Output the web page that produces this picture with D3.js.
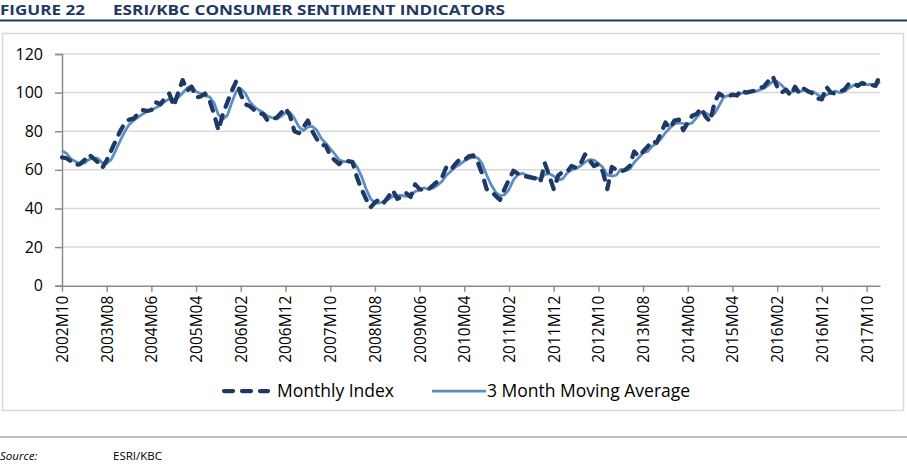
<!DOCTYPE html>
<html>
<head>
<meta charset="utf-8">
<script src="https://cdn.jsdelivr.net/npm/d3@7/dist/d3.min.js"></script>
<style>
  html, body { margin: 0; padding: 0; background: #fff; }
  svg { display: block; }
</style>
</head>
<body>
<svg id="chart" width="907" height="464"></svg>
<script>
// ---- DATA ----
const startYear = 2002, startMonth = 10, nMonths = 184; // 2002M10 .. 2018M01
const months = [];
for (let k = 0; k < nMonths; k++) {
  const t = (startMonth - 1) + k;
  const y = startYear + Math.floor(t / 12), m = (t % 12) + 1;
  months.push(y + "M" + (m < 10 ? "0" + m : m));
}

const monthlyIndex = [
  66.5, 66, 64.5,                                               // 2002 Oct-Dec
  62.5, 63, 65, 68, 66, 64, 61, 65, 70, 75, 80, 84,             // 2003
  86, 86.5, 89, 91, 90.5, 91, 95, 94, 97, 99.5, 93, 100,        // 2004
  106.5, 101, 103, 97.5, 98, 99.5, 96, 89, 80.5, 89, 95, 101,   // 2005
  106, 99, 94, 93, 91, 89, 89, 85.5, 86.5, 87, 89.5, 92,        // 2006
  88, 80, 79, 82, 85.5, 80, 76, 73, 72.5, 67.5, 65, 63,         // 2007
  65, 64.5, 64, 56, 50, 45, 40.5, 43, 45, 43, 46, 49.5,         // 2008
  45, 46, 48, 46, 52.5, 50, 49.5, 50, 52, 54, 56, 61.5,         // 2009
  60, 63, 65.5, 65, 67, 67.5, 64, 58, 50, 49, 46.5, 44.5,       // 2010
  50, 55, 59.5, 58, 57, 56.5, 56, 55.5, 53.5, 63.5, 57, 50,     // 2011
  57, 59, 59, 62, 61, 63, 68, 65, 62, 63, 59, 50,               // 2012
  61.5, 60, 59, 60, 62, 69.5, 67, 69.5, 72, 75, 74, 79,         // 2013
  84.5, 81.5, 85.5, 86, 80.5, 84.5, 88, 89, 92, 87.5, 85, 95,   // 2014
  99.5, 98, 98, 99, 98.5, 101.5, 100, 100.5, 101, 102.5, 103, 106, // 2015
  108.5, 103, 100, 101.5, 98.5, 103, 99.5, 102, 100.5, 99.5, 97, 96.5, // 2016
  103, 100, 99.5, 100.5, 101.5, 104.5, 105, 103.5, 105, 104, 104, 103.5, // 2017
  109                                                           // 2018 Jan
];

const movingAverage = [
  70, 68.5, 65.7,
  64.3, 63.3, 63.5, 65.3, 66.3, 66, 63.7, 63.3, 65.3, 70, 75, 79.7,
  83.3, 85.5, 87.2, 88.8, 90.2, 90.8, 92.2, 93.3, 95.3, 96.8, 96.5, 97.5,
  99.8, 102.5, 103.5, 100.5, 99.5, 98.3, 97.8, 94.8, 88.5, 86.2, 88.2, 95,
  100.7, 102, 99.7, 95.3, 92.7, 91, 89.7, 87.8, 87, 86.3, 87.7, 89.5,
  89.8, 86.7, 82.3, 80.3, 82.2, 82.5, 80.5, 76.3, 73.8, 71, 68.3, 65.2,
  64.3, 64.2, 64.5, 61.5, 56.7, 50.3, 45.2, 42.8, 42.8, 43.7, 44.7, 46.2,
  46.8, 46.8, 46.3, 46.7, 48.8, 49.5, 50.7, 49.8, 50.5, 52, 54, 57.2,
  59.2, 61.5, 62.8, 64.5, 65.8, 66.5, 66.2, 63.2, 57.3, 52.3, 48.5, 46.7,
  47, 49.8, 54.8, 57.5, 58.2, 57.2, 56.5, 56, 55, 57.5, 58, 56.8,
  54.7, 55.3, 58.3, 60, 60.7, 62, 64, 65.3, 65, 63.3, 61.3, 57.3,
  56.8, 57.2, 60.2, 59.7, 60.3, 63.8, 66.2, 68.7, 69.5, 72.2, 73.7, 76,
  79.2, 81.7, 83.8, 84.3, 84, 83.7, 84.3, 87.2, 89.7, 89.5, 88.2, 89.2,
  93.2, 97.5, 98.5, 98.3, 98.5, 99.7, 100, 100.7, 100.5, 101.3, 102.2, 103.8,
  105.8, 105.8, 103.8, 101.5, 100, 101, 100.3, 101.5, 100.7, 100.7, 99, 97.7,
  98.8, 99.8, 100.8, 100, 100.5, 102.2, 103.7, 104.3, 104.5, 104.2, 104.3, 103.8,
  105.5
];

const tickLabels = ["2002M10","2003M08","2004M06","2005M04","2006M02","2006M12",
  "2007M10","2008M08","2009M06","2010M04","2011M02","2011M12","2012M10","2013M08",
  "2014M06","2015M04","2016M02","2016M12","2017M10"];
const yTicks = [0, 20, 40, 60, 80, 100, 120];
const seriesNames = ["Monthly Index", "3 Month Moving Average"];

// ---- STYLE ----
const navy = "#1F3864";
const maColor = "#5B8EC6";
const gridColor = "#D9D9D9";
const axisColor = "#8C8C8C";
const font = "'Open Sans', 'Noto Sans', sans-serif";

const svg = d3.select("#chart");

// Title
const title = svg.append("g").attr("font-family", font).attr("font-weight", 700).attr("fill", navy).attr("font-size", 14.5);
title.append("text").attr("x", 0).attr("y", 15).attr("textLength", 85).attr("lengthAdjust", "spacingAndGlyphs").text("FIGURE 22");
title.append("text").attr("x", 113).attr("y", 15).attr("textLength", 392).attr("lengthAdjust", "spacingAndGlyphs").text("ESRI/KBC CONSUMER SENTIMENT INDICATORS");
svg.append("line").attr("x1", 0).attr("x2", 907).attr("y1", 20.5).attr("y2", 20.5).attr("stroke", navy).attr("stroke-width", 2);

// Chart frame
svg.append("rect").attr("x", 2.5).attr("y", 33.5).attr("width", 901).attr("height", 377)
  .attr("fill", "#fff").attr("stroke", gridColor).attr("stroke-width", 1.5);

// Scales
const x = d3.scalePoint().domain(months).range([62, 880]).padding(0);
const y = d3.scaleLinear().domain([0, 120]).range([285.7, 54]);

// Gridlines
svg.append("g").selectAll("line").data(yTicks.filter(d => d > 0)).join("line")
  .attr("x1", 62).attr("x2", 880)
  .attr("y1", d => y(d)).attr("y2", d => y(d))
  .attr("stroke", gridColor).attr("stroke-width", 1.5);

// Y axis
const yAxis = d3.axisLeft(y).tickValues(yTicks).tickSize(7).tickPadding(12).tickFormat(d3.format("d"));
const gy = svg.append("g").attr("transform", "translate(62,0)").call(yAxis);
gy.select(".domain").attr("stroke", axisColor).attr("stroke-width", 1.5);
gy.selectAll(".tick line").attr("stroke", axisColor).attr("stroke-width", 1.5);
gy.selectAll(".tick text").attr("font-family", font).attr("font-size", 16).attr("fill", "#000");

// X axis
const xAxis = d3.axisBottom(x).tickValues(tickLabels).tickSize(6).tickSizeOuter(0).tickFormat(d => d);
const gx = svg.append("g").attr("transform", "translate(0," + y(0) + ")").call(xAxis);
gx.select(".domain").attr("stroke", axisColor).attr("stroke-width", 1.5);
gx.selectAll(".tick line").attr("stroke", axisColor).attr("stroke-width", 1.5);
gx.selectAll(".tick text")
  .attr("font-family", font).attr("font-size", 15.5).attr("fill", "#000")
  .attr("text-anchor", "end")
  .attr("transform", "translate(0,10) rotate(-90)")
  .attr("x", 0).attr("y", 0).attr("dy", "0.35em");

// Lines
const lineM = d3.line().x((d, i) => x(months[i])).y(d => y(d));
svg.append("path").datum(movingAverage).attr("d", lineM)
  .attr("fill", "none").attr("stroke", maColor).attr("stroke-width", 2.75).attr("stroke-linejoin", "round");
svg.append("path").datum(monthlyIndex).attr("d", lineM)
  .attr("fill", "none").attr("stroke", navy).attr("stroke-width", 4.25)
  .attr("stroke-dasharray", "9,9").attr("stroke-linecap", "round").attr("stroke-linejoin", "round");

// Legend
const lg = svg.append("g").attr("font-family", font).attr("font-size", 17.5).attr("fill", "#000");
lg.append("line").attr("x1", 224).attr("x2", 268).attr("y1", 391).attr("y2", 391)
  .attr("stroke", navy).attr("stroke-width", 4.25).attr("stroke-dasharray", "9,9").attr("stroke-linecap", "round");
lg.append("text").attr("x", 277).attr("y", 391).attr("dy", "0.35em").text(seriesNames[0]);
lg.append("line").attr("x1", 432).attr("x2", 486).attr("y1", 391).attr("y2", 391)
  .attr("stroke", maColor).attr("stroke-width", 2.75);
lg.append("text").attr("x", 487).attr("y", 391).attr("dy", "0.35em").text(seriesNames[1]);

// Source separator and note
svg.append("line").attr("x1", 0).attr("x2", 907).attr("y1", 437).attr("y2", 437).attr("stroke", "#BFBFBF").attr("stroke-width", 2);
const src = svg.append("g").attr("font-family", font).attr("font-size", 11.5).attr("fill", "#000");
src.append("text").attr("x", 0).attr("y", 460).attr("font-style", "italic").text("Source:");
src.append("text").attr("x", 113).attr("y", 460).text("ESRI/KBC");
</script>
</body>
</html>
